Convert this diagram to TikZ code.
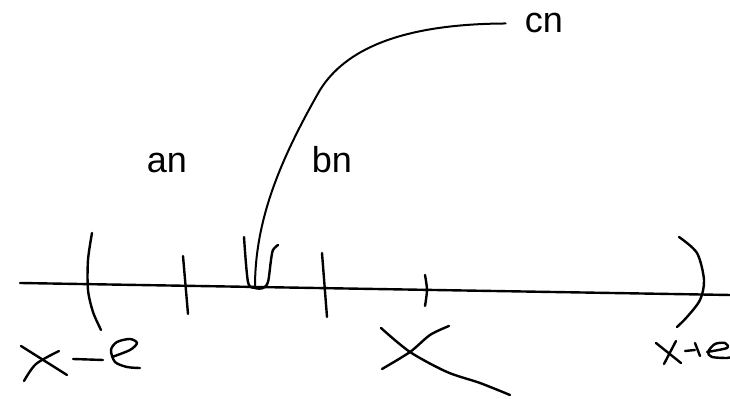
\documentclass[tikz,border=0pt]{standalone}
\usepackage{fontspec}
\setmainfont{Liberation Sans}
\usepackage{tikz}
\usetikzlibrary{positioning}
\tikzset{
  sk sketch/.style={line cap=round, line join=round},
  sk pen/.style={draw=black, line width=1.2pt},
  sk label/.style={font=\fontsize{18}{20}\selectfont, text=black,
    inner sep=0pt, anchor=base},
  sk link/.style={sk pen, line width=1pt}
}
\begin{document}
\begin{tikzpicture}[sk sketch,x=0.5pt,y=-0.5pt]
\useasboundingbox (0,0) rectangle (730,399);
% labels
\node[sk label] (an) at (167,173) {an};
\node[sk label] (bn) at (332,173) {bn};
\node[sk label,inner xsep=9.5pt] (cn) at (544,33) {cn};
\coordinate (dip) at (255,287);
% number line and marks
\draw[sk pen] (20,283) -- (730,295);
\draw[sk pen] plot[smooth] coordinates {(92,233) (88,260) (88,290) (93,312) (101,330)};
\draw[sk pen] (183,256) -- (188,314);
\draw[sk pen] plot[smooth] coordinates {(244,237) (248,282) (255,288) (263,288) (268,282) (271,260) (273,250) (278,245)};
\draw[sk pen] (322,253) -- (327,317);
\draw[sk pen] plot[smooth] coordinates {(425,275) (427,290) (425,306)};
\draw[sk pen] plot[smooth] coordinates {(679,237) (697,253) (704,280) (700,300) (687,317) (677,327)};
% x below the line
\draw[sk pen] plot[smooth] coordinates {(381,328) (410,352) (447,372) (480,383) (510,395)};
\draw[sk pen] plot[smooth] coordinates {(382,369) (410,352) (430,335) (449,326)};
% x-e
\draw[sk pen] (21,346) -- (67,375);
\draw[sk pen] plot[smooth] coordinates {(24,381) (36,364) (59,351)};
\draw[sk pen] (73,359) -- (103,360);
\draw[sk pen] plot[smooth] coordinates {(112,357) (130,350) (137,343) (130,339) (117,342) (111,350) (115,362) (127,367) (140,368)};
% x+e
\draw[sk pen] (656,343) -- (681,363);
\draw[sk pen] (664,364) -- (676,341);
\draw[sk pen] (685,351) -- (695,350);
\draw[sk pen] (695,343) -- (700,356);
\draw[sk pen] plot[smooth] coordinates {(707,352) (727,348) (725,343) (715,344) (708,352) (712,357) (727,358) (731,357)};
% curve to cn
\draw[sk link] (cn.west) .. controls (400,24) and (345,50) .. (320,90)
  .. controls (280,160) and (255,220) .. (dip);
\end{tikzpicture}
\end{document}
